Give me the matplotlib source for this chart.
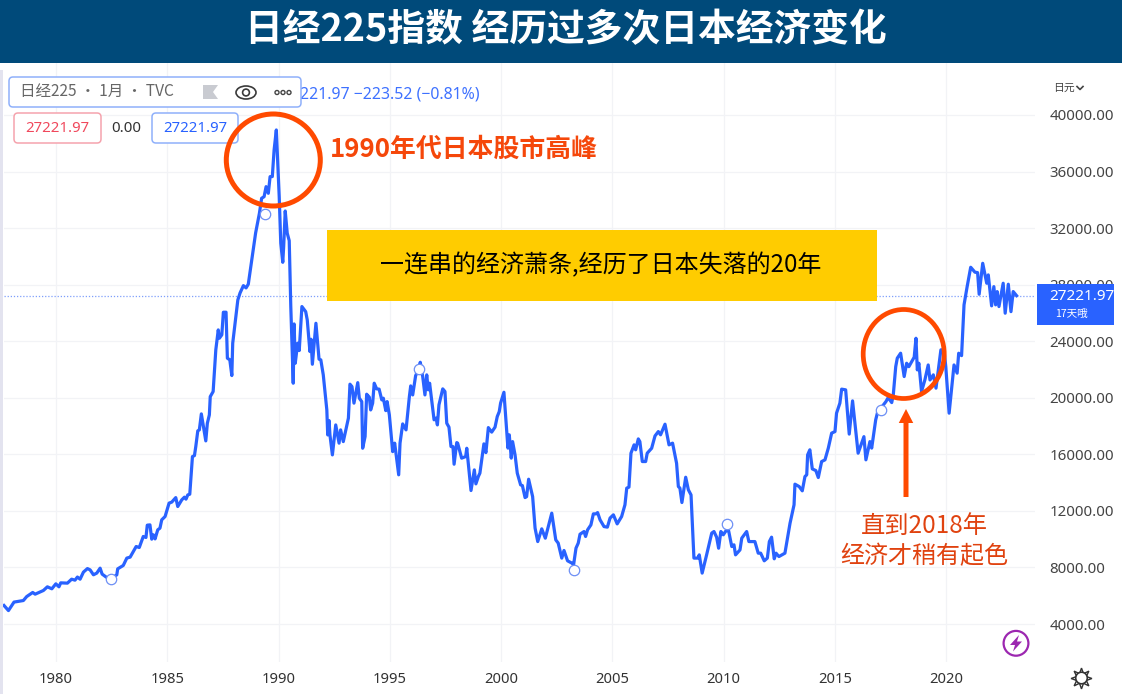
import matplotlib
matplotlib.use("Agg")
import matplotlib.pyplot as plt
from matplotlib.patches import Rectangle, FancyBboxPatch, Ellipse, Polygon, Circle, FancyArrow

CJK = ['Noto Sans CJK SC', 'DejaVu Sans']
NUM = ['Noto Sans', 'DejaVu Sans']
plt.rcParams['font.family'] = CJK
plt.rcParams['axes.unicode_minus'] = False

years = [1977.66,1977.86,1978.11,1978.53,1978.68,1978.95,1979.06,1979.43,1979.61,1979.81,1979.99,1980.13,1980.21,1980.51,1980.70,1980.85,1980.96,1981.08,1981.23,1981.41,1981.53,1981.68,1981.83,1981.98,1982.07,1982.25,1982.47,1982.73,1982.77,1983.02,1983.18,1983.33,1983.60,1983.74,1983.92,1984.04,1984.10,1984.22,1984.30,1984.37,1984.45,1984.57,1984.67,1984.75,1984.90,1985.08,1985.20,1985.38,1985.47,1985.65,1985.77,1985.84,1985.92,1986.01,1986.13,1986.22,1986.28,1986.37,1986.44,1986.53,1986.73,1986.80,1986.89,1986.93,1987.06,1987.18,1987.29,1987.34,1987.45,1987.52,1987.64,1987.70,1987.81,1987.90,1987.94,1988.17,1988.27,1988.42,1988.54,1988.64,1988.97,1989.14,1989.24,1989.35,1989.44,1989.54,1989.62,1989.72,1989.80,1989.90,1990.03,1990.10,1990.19,1990.23,1990.30,1990.39,1990.48,1990.55,1990.66,1990.70,1990.75,1990.86,1990.93,1991.05,1991.22,1991.29,1991.41,1991.46,1991.52,1991.68,1991.82,1991.90,1992.01,1992.17,1992.21,1992.27,1992.31,1992.42,1992.57,1992.72,1992.79,1992.91,
 1993.14,1993.21,1993.30,1993.39,1993.56,1993.63,1993.74,1993.78,1993.89,1993.96,1994.08,1994.14,1994.23,1994.30,1994.41,1994.52,1994.64,1994.71,1994.82,1994.88,1994.98,1995.13,1995.22,1995.40,1995.46,1995.58,1995.73,1995.88,1995.94,1996.03,1996.16,1996.31,1996.37,1996.48,1996.58,1996.66,1996.73,1996.79,1996.99,1997.08,1997.14,1997.21,1997.38,1997.48,1997.56,1997.66,1997.75,1997.84,1997.89,1998.01,1998.05,1998.23,1998.41,1998.46,1998.65,1998.80,1998.87,1998.98,1999.05,1999.23,1999.32,1999.43,1999.58,1999.73,1999.83,1999.92,1999.98,2000.13,2000.25,2000.31,2000.37,2000.46,2000.52,2000.63,2000.73,2000.88,2000.96,2001.08,2001.15,2001.24,2001.42,2001.53,2001.65,2001.83,2001.99,2002.28,2002.46,2002.57,2002.73,2002.83,2002.99,2003.19,2003.26,2003.37,2003.47,2003.55,2003.73,2003.80,2003.89,2004.04,2004.15,2004.27,2004.34,2004.45,2004.63,2004.78,2004.90,2005.05,2005.22,2005.42,2005.57,2005.65,2005.75,2005.84,2005.98,2006.05,2006.17,2006.24,2006.35,2006.50,2006.57,2006.77,2006.92,2007.07,2007.17,2007.37,2007.55,2007.71,2007.89,2007.97,2008.04,2008.13,2008.30,2008.42,2008.54,2008.67,2008.84,2008.91,2009.04,2009.24,2009.47,2009.57,2009.69,2009.78,2009.88,2009.99,2010.11,2010.23,2010.37,2010.47,2010.54,2010.74,2010.82,2011.04,2011.14,2011.41,2011.56,2011.67,2011.83,2011.97,2012.06,2012.16,2012.28,2012.36,2012.49,2012.76,2012.99,2013.17,2013.21,2013.40,2013.54,2013.66,2013.74,2013.78,2013.88,2013.99,2014.15,2014.26,2014.41,2014.56,2014.71,2014.86,2015.01,2015.08,2015.23,2015.31,2015.49,2015.65,2015.80,2016.05,2016.31,2016.40,2016.58,2016.66,2016.84,2016.95,2017.08,2017.30,2017.40,2017.56,2017.63,2017.74,2017.81,2017.96,2018.12,2018.23,2018.33,2018.57,2018.65,2018.71,2018.78,2018.90,2019.05,2019.20,2019.28,2019.43,2019.55,2019.77,2019.91,2019.99,2020.14,2020.36,2020.50,2020.57,2020.70,2020.81,2020.95,2021.11,2021.30,2021.42,2021.49,2021.65,2021.83,2021.90,2022.05,2022.15,2022.23,2022.30,2022.38,2022.57,2022.66,2022.80,2022.92,2023.02,2023.17]

closes = [5310,4950,5550,5660,5940,6230,6110,6370,6630,6490,6840,6630,6910,6890,7170,7100,7320,7170,7670,7920,7830,7480,7600,7950,7530,7320,7170,7480,7900,8140,8660,8730,9480,9410,10190,10120,10990,11010,10000,10310,10020,10660,10780,11370,11600,12550,12620,12940,12310,12780,12970,12830,13130,13180,15840,15910,16550,17660,17730,18860,16950,18200,18790,20080,20440,23390,24800,24210,24450,26050,26050,22800,22680,21570,23860,26920,27410,27930,27770,28030,31660,33050,34110,34220,34930,34460,35640,35640,37520,38940,34220,30930,29580,30690,33210,31640,31110,26450,21030,25220,22440,23860,23340,26450,26090,25510,23270,24140,22370,25270,22730,22680,21620,19140,17370,18390,17370,15960,18080,16790,17730,16900,
 18560,20960,20790,19620,21070,19970,19730,16430,17260,20250,20040,19140,19620,21030,20630,20610,19850,19970,19090,19730,18790,16190,16790,14550,16790,18150,17730,20080,20840,20200,21550,22110,22510,21500,20200,21620,20560,21030,18440,18560,18080,19500,20630,20440,18200,17920,16550,16550,15300,16830,16790,15730,15840,16430,13440,14900,13910,14430,14670,16740,16120,17890,17570,17920,18670,19020,19620,20390,17730,16440,17380,15730,16900,15960,14670,13840,13790,12940,13010,14240,13010,10780,9830,10730,10070,11840,9950,9720,8660,9200,8470,8300,8180,9370,9720,10350,10540,10190,10660,11010,11790,11790,11880,11370,10890,10850,11490,11720,11080,11600,12430,13610,13680,16080,16670,16320,17090,16900,15490,15490,16080,16430,17300,17610,17380,18130,16670,16790,15370,13720,13610,12590,14380,13490,13130,8660,8660,8890,7600,8890,10430,10540,10140,9360,10540,10310,10590,10590,9480,9600,8890,9240,10070,10540,9830,9830,9010,9010,8470,8660,9830,10140,8610,9010,8770,9010,11130,12430,13890,13720,13420,14430,14550,15960,16320,14970,14850,14360,15490,15610,16440,17500,17610,18910,19620,20610,20560,17430,19780,16080,17250,15610,16900,16440,18440,19140,19280,19730,20010,19660,20200,22200,22800,23150,21500,22440,22200,22870,24210,21970,22440,20440,21260,22320,21260,21620,20680,23390,23390,22200,18910,22320,21740,23150,22980,26570,27860,29230,28880,28850,27320,29510,28100,28690,26500,27860,26570,27510,26450,28100,25980,28030,26090,27510,27221.97]

event_years = [1982.47, 1989.39, 1996.31, 2003.28, 2010.17, 2017.08]
event_values = [7170, 33000, 22000, 7830, 11080, 19140]
last_close = 27221.97

tick_years = [1980, 1985, 1990, 1995, 2000, 2005, 2010, 2015, 2020]
tick_prices = [4000, 8000, 12000, 16000, 20000, 24000, 28000, 32000, 36000, 40000]
price_labels = ['4000.00', '8000.00', '12000.00', '16000.00', '20000.00', '24000.00', '28000.00', '32000.00', '36000.00', '40000.00']

W, H = 1122, 694
BLUE = '#2962FF'
ORANGE = '#FF4A00'

fig = plt.figure(figsize=(W / 100, H / 100), dpi=100, facecolor='white')

L, R, T, B = 4, 1035, 62, 662
ax = fig.add_axes([L / W, 1 - B / H, (R - L) / W, (B - T) / H])
ax.set_xlim(1977.66, 2024.0)
ax.set_ylim(1313, 43746)
for s in ax.spines.values():
    s.set_visible(False)
ax.grid(True, color='#f2f3f6', lw=0.9)
ax.set_axisbelow(True)
ax.set_xticks(tick_years)
ax.set_xticklabels([str(y) for y in tick_years], fontsize=10.6, color='#333333', family=NUM)
ax.yaxis.tick_right()
ax.set_yticks(tick_prices)
ax.set_yticklabels(price_labels, fontsize=10.8, color='#444444', family=NUM)
ax.tick_params(axis='both', length=0)
ax.tick_params(axis='x', pad=7)
ax.tick_params(axis='y', pad=10.5)
ax.axhline(last_close, color='#7f9ffb', lw=0.9, ls=(0, (1, 1.5)), zorder=1)
ax.plot(years, closes, color=BLUE, lw=2.3, solid_joinstyle='round', zorder=3, clip_on=False)
ax.plot(event_years, event_values, ls='none', marker='o', ms=7.5, mfc='white', mec='#6d8ff5', mew=0.9, zorder=4)

# overlay in pixel coordinates for the screenshot's decorations
ov = fig.add_axes([0, 0, 1, 1], facecolor='none')
ov.set_xlim(0, W)
ov.set_ylim(H, 0)
ov.axis('off')

ov.add_patch(Rectangle((0, 0), W, 63, fc='#004A7A', ec='none'))
ov.add_patch(Rectangle((0, 70), 3.5, H - 70, fc='#e3e3ef', ec='none'))
ov.text(565.5, 30, '日经225指数 经历过多次日本经济变化', color='white', fontsize=27.2,
        fontweight='bold', ha='center', va='center')

# legend header
ov.text(300, 94.5, '221.97 −223.52 (−0.81%)', color=BLUE, fontsize=11.4, family=NUM, va='center', ha='left', alpha=0.9)
ov.add_patch(FancyBboxPatch((12, 80), 286, 24, boxstyle='round,pad=3,rounding_size=4',
                            fc='white', ec='#8fb0fb', lw=1.1, zorder=3))
ov.text(20, 91.5, '日经225 • 1月 • TVC', color='#666666', fontsize=11.2, va='center', ha='left', zorder=4)
ov.add_patch(Polygon([(203, 85), (218, 85), (213, 92), (218, 99), (203, 99)], fc='#c9cbd1', ec='none', zorder=4))
ov.add_patch(Ellipse((246, 92.5), 20, 13, fc='white', ec='#3a3a3a', lw=1.2, zorder=4))
ov.add_patch(Circle((246, 92.5), 3.4, fc='white', ec='#3a3a3a', lw=1.2, zorder=4))
for dx in (277, 283, 289):
    ov.add_patch(Circle((dx, 92.5), 2, fc='white', ec='#444444', lw=1, zorder=4))

ov.add_patch(FancyBboxPatch((17, 116), 81, 24, boxstyle='round,pad=3,rounding_size=4', fc='white', ec='#f5a3ad', lw=1.1))
ov.text(57.5, 128.5, '27221.97', color='#f0485c', fontsize=10.8, family=NUM, ha='center', va='center')
ov.text(126.5, 128.5, '0.00', color='#333333', fontsize=10.8, family=NUM, ha='center', va='center')
ov.add_patch(FancyBboxPatch((155, 116), 80, 24, boxstyle='round,pad=3,rounding_size=4', fc='white', ec='#8fb0fb', lw=1.1))
ov.text(195, 128.5, '27221.97', color=BLUE, fontsize=10.8, family=NUM, ha='center', va='center')

# currency
ov.text(1053, 88, '日元', color='#444444', fontsize=7.8, ha='left', va='center')
ov.plot([1077, 1080, 1083], [86.5, 89.5, 86.5], color='#444444', lw=1.2)

# last price tag
ov.add_patch(Rectangle((1037, 284), 77, 41, fc=BLUE, ec='none', zorder=3))
ov.text(1082, 296, '27221.97', color='white', fontsize=11, family=NUM, fontweight='semibold', ha='center', va='center', zorder=4)
ov.text(1071.5, 313.5, '17天哦', color='white', fontsize=7.6, ha='center', va='center', zorder=4)

# annotations
ov.add_patch(Ellipse((273.3, 160), 94, 92, fc='none', ec=ORANGE, lw=3.6, zorder=5))
ov.text(330, 149.5, '1990年代日本股市高峰', color='#F5470A', fontsize=18.6, fontweight='bold', ha='left', va='center')

ov.add_patch(Rectangle((327, 230), 550, 71, fc='#FFCC00', ec='none', zorder=5))
ov.text(601, 265.5, '一连串的经济萧条,经历了日本失落的20年', color='black', fontsize=17.3, ha='center', va='center', zorder=6)

ov.add_patch(Ellipse((903.7, 354), 81, 89, fc='none', ec=ORANGE, lw=3.4, zorder=5))
ov.add_patch(FancyArrow(906, 497, 0, -88, width=5, head_width=14.5, head_length=14,
                        length_includes_head=True, fc=ORANGE, ec='none', zorder=5))
ov.text(924, 526, '直到2018年', color='#E0420F', fontsize=17.5, ha='center', va='center')
ov.text(924, 556.5, '经济才稍有起色', color='#E0420F', fontsize=17.3, ha='center', va='center')

# lightning badge
ov.add_patch(Circle((1016, 643.3), 12.4, fc='white', ec='#9c27b0', lw=1.6))
ov.add_patch(Polygon([(1019, 635), (1010, 645), (1015, 645), (1013, 651.5), (1022, 641.5), (1017, 641.5)],
                     fc='#9c27b0', ec='none'))

# settings gear
ov.plot([1081.5], [678], marker=(8, 1, 0), ms=15, mfc='white', mec='#333333', mew=1.0, ls='none')
ov.add_patch(Circle((1081.5, 678), 5.8, fc='white', ec='#333333', lw=1.2, zorder=3))

fig.savefig('out.png', dpi=100)
